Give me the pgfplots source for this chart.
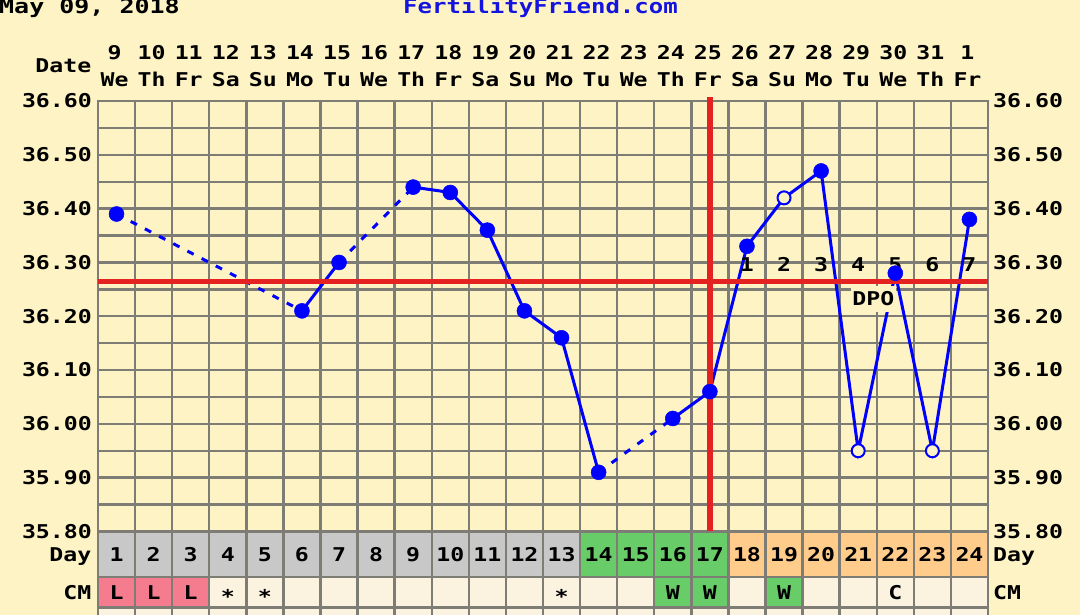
\documentclass[border=0pt]{standalone}
\usepackage{pgfplots}
\pgfplotsset{compat=1.18}
\usepackage{fontspec}
\setmainfont{DejaVu Sans Mono}
\newfontfamily\pix{DejaVu Sans Mono Bold}
\newcommand\pf{\pix\fontsize{19}{22}\selectfont}
\newcommand\tf{\pix\fontsize{20}{22}\selectfont}
\newcommand\sx[1]{\scalebox{1.22}[1]{#1}}
\definecolor{bg}{RGB}{253,243,196}
\definecolor{gridg}{RGB}{125,125,118}
\definecolor{dayg}{RGB}{200,200,200}
\definecolor{grn}{RGB}{104,204,104}
\definecolor{org}{RGB}{255,204,140}
\definecolor{pnk}{RGB}{244,124,142}
\definecolor{crm}{RGB}{251,242,224}
\definecolor{redl}{RGB}{228,34,34}
\definecolor{blu}{RGB}{0,0,255}
\definecolor{ffblue}{RGB}{20,20,225}
\pgfplotsset{
  base/.style={
    at={(98pt,83.5pt)}, anchor=south west,
    scale only axis, width=890pt, height=430.5pt,
    xmin=0.5, xmax=24.5, ymin=35.8, ymax=36.6,
    ytick={35.8,35.9,36.0,36.1,36.2,36.3,36.4,36.5,36.6},
    scaled y ticks=false,
    yticklabel={\sx{\pgfmathprintnumber{\tick}}},
    y tick label style={font=\pf, inner sep=0pt,
      /pgf/number format/fixed, /pgf/number format/fixed zerofill,
      /pgf/number format/precision=2, /pgf/number format/assume math mode=true},
    tick style={draw=none},
    clip=false,
  }
}
\begin{document}
\begin{tikzpicture}
\useasboundingbox (0pt,0pt) rectangle (1080pt,615pt);
\fill[bg] (0pt,0pt) rectangle (1080pt,615pt);
% titles
\node[anchor=base west, inner sep=0, font=\tf] at (-1pt,601.5pt) {\scalebox{1.25}[1]{May 09, 2018}};
\node[anchor=base, inner sep=0, font=\tf, text=ffblue] at (540.5pt,601.5pt) {\scalebox{1.2}[1]{FertilityFriend.com}};
% header
\node[anchor=base east, inner sep=0, font=\pf] at (91.5pt,542pt) {\sx{Date}};
\foreach \c/\d/\w in {1/9/We,2/10/Th,3/11/Fr,4/12/Sa,5/13/Su,6/14/Mo,7/15/Tu,8/16/We,9/17/Th,10/18/Fr,11/19/Sa,12/20/Su,13/21/Mo,14/22/Tu,15/23/We,16/24/Th,17/25/Fr,18/26/Sa,19/27/Su,20/28/Mo,21/29/Tu,22/30/We,23/31/Th,24/1/Fr}{
  \pgfmathsetmacro\xc{98+37.0833*(\c-0.5)-2}
  \node[anchor=base, inner sep=0, font=\pf] at (\xc pt,555pt) {\sx{\d}};
  \node[anchor=base, inner sep=0, font=\pf] at (\xc pt,528pt) {\sx{\w}};
}
% bottom table
\fill[crm] (98pt,-3pt) rectangle (988pt,38pt);
\foreach \c in {1,...,24}{
  \pgfmathsetmacro\xl{98+37.0833*(\c-1)}
  \pgfmathsetmacro\xr{98+37.0833*\c}
  \pgfmathsetmacro\xc{98+37.0833*(\c-0.5)}
  \ifnum\c<14 \def\dc{dayg}\else\ifnum\c<18 \def\dc{grn}\else\def\dc{org}\fi\fi
  \fill[\dc] (\xl pt,38pt) rectangle (\xr pt,83.5pt);
  \node[anchor=base, inner sep=0, font=\pf] at (\xc pt,53pt) {\sx{\c}};
}
\foreach \c/\cc in {1/pnk,2/pnk,3/pnk,16/grn,17/grn,19/grn}{
  \pgfmathsetmacro\xl{98+37.0833*(\c-1)}
  \pgfmathsetmacro\xr{98+37.0833*\c}
  \fill[\cc] (\xl pt,7.5pt) rectangle (\xr pt,38pt);
}
\foreach \c/\t in {1/L,2/L,3/L,16/W,17/W,19/W,22/C}{
  \pgfmathsetmacro\xc{98+37.0833*(\c-0.5)}
  \node[anchor=base, inner sep=0, font=\pf] at (\xc pt,15pt) {\sx{\t}};
}
\foreach \c in {4,5,13}{
  \pgfmathsetmacro\xc{98+37.0833*(\c-0.5)}
  \node[anchor=base, inner sep=0, font=\pf] at (\xc pt,11pt) {\sx{*}};
}
\foreach \i in {0,...,24}{
  \pgfmathsetmacro\xe{98+37.0833*\i}
  \draw[gridg, line width=2.4pt] (\xe pt,-3pt) -- (\xe pt,83.5pt);
}
\draw[gridg, line width=2.4pt] (96.8pt,38pt) -- (989.2pt,38pt);
\draw[gridg, line width=2.4pt] (96.8pt,7.5pt) -- (989.2pt,7.5pt);
\node[anchor=base east, inner sep=0, font=\pf] at (91.5pt,53pt) {\sx{Day}};
\node[anchor=base east, inner sep=0, font=\pf] at (91.5pt,15pt) {\sx{CM}};
\node[anchor=base west, inner sep=0, font=\pf] at (993pt,53pt) {\sx{Day}};
\node[anchor=base west, inner sep=0, font=\pf] at (993pt,15pt) {\sx{CM}};

% main axis
\begin{axis}[base,
  xtick={0.5,1.5,...,24.5}, xticklabels={},
  minor ytick={35.85,35.95,36.05,36.15,36.25,36.35,36.45,36.55},
  xmajorgrids, ymajorgrids, yminorgrids,
  major grid style={gridg, line width=2.4pt},
  minor grid style={gridg, line width=2.4pt},
  axis line style={gridg, line width=2.4pt},
  yticklabel style={anchor=east, xshift=-6pt},
]
% dashed gaps
\addplot[blu, line width=3pt, dash pattern=on 7pt off 9pt] coordinates {(1,36.39)(6,36.21)};
\addplot[blu, line width=3pt, dash pattern=on 7pt off 9pt] coordinates {(7,36.30)(9,36.44)};
\addplot[blu, line width=3pt, dash pattern=on 7pt off 9pt] coordinates {(14,35.91)(16,36.01)};
% solid
\addplot[blu, line width=3pt] coordinates {(6,36.21)(7,36.30)};
\addplot[blu, line width=3pt] coordinates {(9,36.44)(10,36.43)(11,36.36)(12,36.21)(13,36.16)(14,35.91)};
\addplot[blu, line width=3pt] coordinates {(16,36.01)(17,36.06)(18,36.33)(19,36.42)(20,36.47)(21,35.95)(22,36.28)(23,35.95)(24,36.38)};
% markers
\addplot[only marks, mark=*, mark size=7.5pt, mark options={draw=blu, fill=blu, line width=0.5pt}]
  coordinates {(1,36.39)(6,36.21)(7,36.30)(9,36.44)(10,36.43)(11,36.36)(12,36.21)(13,36.16)(14,35.91)(16,36.01)(17,36.06)(18,36.33)(20,36.47)(22,36.28)(24,36.38)};
\addplot[only marks, mark=*, mark size=6.5pt, mark options={draw=blu, fill=bg, line width=2pt}]
  coordinates {(19,36.42)(21,35.95)(23,35.95)};
% coverline and ovulation line
\addplot[redl, line width=5.5pt] coordinates {(0.5,36.265)(24.5,36.265)};
\addplot[redl, line width=5.5pt] coordinates {(17,35.8)(17,36.608)};
% DPO labels
\node[anchor=base, inner sep=0, font=\pf] at (axis cs:18,36.265) [yshift=10pt] {\sx{1}};
\node[anchor=base, inner sep=0, font=\pf] at (axis cs:19,36.265) [yshift=10pt] {\sx{2}};
\node[anchor=base, inner sep=0, font=\pf] at (axis cs:20,36.265) [yshift=10pt] {\sx{3}};
\node[anchor=base, inner sep=0, font=\pf] at (axis cs:21,36.265) [yshift=10pt] {\sx{4}};
\node[anchor=base, inner sep=0, font=\pf] at (axis cs:22,36.265) [yshift=10pt] {\sx{5}};
\node[anchor=base, inner sep=0, font=\pf] at (axis cs:23,36.265) [yshift=10pt] {\sx{6}};
\node[anchor=base, inner sep=0, font=\pf] at (axis cs:24,36.265) [yshift=10pt] {\sx{7}};
\node[fill=bg, inner sep=0, minimum width=45pt, minimum height=26pt, font=\pf] at (axis cs:21.41,36.232) {\sx{DPO}};
\end{axis}
% right tick labels
\begin{axis}[base,
  xtick=\empty,
  yticklabel pos=right,
  axis line style={draw=none},
  yticklabel style={anchor=west, xshift=5pt},
]
\end{axis}
\end{tikzpicture}
\end{document}
